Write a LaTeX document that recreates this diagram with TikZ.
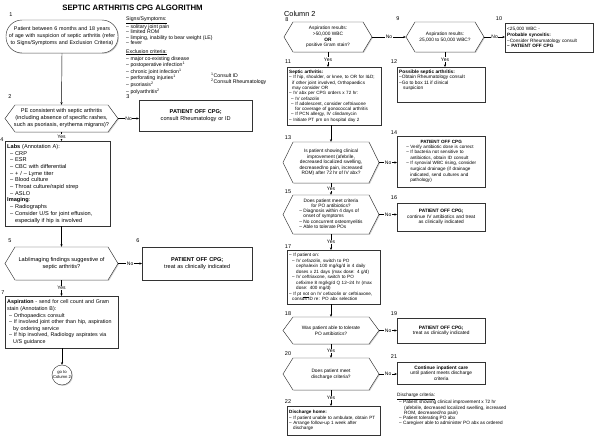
\documentclass[tikz,border=0pt]{standalone}
\usepackage{fontspec}
\setmainfont{Liberation Sans}
\usetikzlibrary{shadows,arrows.meta,calc}
\newcommand\fz[2]{\fontsize{#1}{#2}\selectfont}
% #1 name, #2 cx, #3 cy, #4 w, #5 h, #6 point depth, #7 text, #8 extra options
\newcommand\hexa[8]{%
  \draw[hexl] ({#2-#4/2},#3) -- ({#2-#4/2+#6},{#3-#5/2}) -- ({#2+#4/2-#6},{#3-#5/2}) -- ({#2+#4/2},#3) -- ({#2+#4/2-#6},{#3+#5/2}) -- ({#2-#4/2+#6},{#3+#5/2}) -- cycle;
  \node[hexn, minimum width=#4pt, minimum height=#5pt, #8] (#1) at (#2,#3) {#7};}
\begin{document}
\begin{tikzpicture}[x=1pt,y=-1pt,
  ln/.style={draw=black!80, line width=0.45pt},
  dsh/.style={drop shadow={shadow xshift=0.9pt, shadow yshift=-0.9pt, opacity=0.3, fill=black!60}},
  tbox/.style={ln, fill=white, dsh, anchor=north west, inner xsep=2pt, inner ysep=1pt, align=left},
  cbox/.style={ln, fill=white, dsh, anchor=north west, inner xsep=2pt, inner ysep=1pt, align=center},
  hexn/.style={inner sep=0pt, align=center},
  hexl/.style={ln, fill=white, dsh},
  arr/.style={draw=black, line width=0.45pt, -{Stealth[length=2.6pt,width=2.2pt]}},
  num/.style={font=\fz{5.5}{6}, inner sep=0pt},
  yn/.style={fill=white, inner sep=0.6pt, font=\fz{5}{5.6}}
]
\useasboundingbox (0,0) rectangle (595,439);

% titles
\node[font=\bfseries\fz{7.8}{9}] (title) at (132.5,8) {SEPTIC ARTHRITIS CPG ALGORITHM};
\node[anchor=west, font=\fz{7.3}{8}, inner sep=0pt] (col2) at (284,14) {Column 2};

% ---------------- column 1 ----------------
\node[ln, fill=white, dsh, rounded corners=16pt, minimum width=112pt, minimum height=33pt, text width=108pt, inner xsep=2pt, align=center, font=\fz{5.35}{7}] (b1) at (62,36.5)
  {Patient between 6 months and 18 years\\of age with suspicion of septic arthritis (refer\\to Signs/Symptoms and Exclusion Criteria)};

\node[anchor=north west, align=left, inner sep=0pt, font=\fz{5.2}{5.1}] (signs) at (126,17)
  {\underline{Signs/Symptoms:}\\
   – solitary joint pain\\
   – limited ROM\\
   – limping, inability to bear weight (LE)\\
   – fever\\[4pt]
   \underline{Exclusion criteria:}\\
   – major co-existing disease\\
   – postoperative infection\textsuperscript{1}\\
   – chronic joint infection\textsuperscript{1}\\
   – perforating injuries\textsuperscript{1}\\
   – psoriasis\textsuperscript{2}\\
   – polyarthritis\textsuperscript{2}};
\node[anchor=north west, align=left, inner sep=0pt, font=\fz{5.2}{6}] (fn) at (211,73)
  {\textsuperscript{1}Consult ID\\\textsuperscript{2}Consult Rheumatology};

\hexa{h2}{61.5}{118.5}{113}{27}{10}{PE consistent with septic arthritis\\(including absence of specific rashes,\\such as psoriasis, erythema migrans)?}{font=\fz{5.55}{7}}

\node[cbox, font=\fz{5.6}{6.6}, text width=109pt, minimum height=31pt] (b3) at (139,100)
  {\textbf{PATIENT OFF CPG;}\\consult Rheumatology or ID};

\node[tbox, font=\fz{5.6}{6.7}, text width=101pt, minimum height=85pt] (b4) at (5,141)
  {\textbf{Labs} (Annotation A):\\
   \hspace*{3pt}– CRP\\
   \hspace*{3pt}– ESR\\
   \hspace*{3pt}– CBC with differential\\
   \hspace*{3pt}– + / – Lyme titer\\
   \hspace*{3pt}– Blood culture\\
   \hspace*{3pt}– Throat culture/rapid strep\\
   \hspace*{3pt}– ASLO\\
   \textbf{Imaging}:\\
   \hspace*{3pt}– Radiographs\\
   \hspace*{3pt}– Consider U/S for joint effusion,\\
   \hspace*{8pt}especially if hip is involved};

\hexa{h5}{61.5}{263.5}{113}{33}{10}{Lab/imaging findings suggestive of\\septic arthritis?}{font=\fz{5.6}{7}}

\node[cbox, font=\fz{5.6}{6.6}, text width=106pt, minimum height=33pt] (b6) at (142,247)
  {\textbf{PATIENT OFF CPG;}\\treat as clinically indicated};

\node[tbox, font=\fz{5.35}{6.6}, text width=109pt, minimum height=52pt] (b7) at (5,296)
  {\textbf{Aspiration} - send for cell count and Gram\\
   stain (Annotation B):\\
   \hspace*{2pt}– Orthopaedics consult\\
   \hspace*{2pt}– If involved joint other than hip, aspiration\\
   \hspace*{6pt}by ordering service\\
   \hspace*{2pt}– If hip involved, Radiology aspirates via\\
   \hspace*{6pt}U/S guidance};

\node[ln, fill=white, dsh, circle, minimum size=20pt, inner sep=0pt, align=center, font=\fz{4.2}{4.9}] (c) at (62,375) {go to\\Column 2};

% ---------------- column 2 ----------------
\hexa{h8}{328}{37}{88}{30}{9}{Aspiration results:\\>50,000 WBC\\\textbf{OR}\\positive Gram stain?}{font=\fz{4.8}{5.6}}
\hexa{h9}{445}{37}{78}{30}{9}{Aspiration results:\\25,000 to 50,000 WBC?}{font=\fz{4.8}{6.4}}

\node[tbox, font=\fz{4.7}{5.6}, text width=84pt, minimum height=29pt] (b10) at (505,23)
  {<25,000 WBC -\\
   \textbf{Probable synovitis:}\\
   –Consider Rheumatology consult\\
   \textbf{– PATIENT OFF CPG}};

\node[tbox, font=\fz{4.6}{5.3}, text width=90pt, minimum height=58pt] (b11) at (287,67)
  {\textbf{Septic arthritis:}\\
   – If hip, shoulder, or knee, to OR for I\&D;\\
   \hspace*{3pt}if other joint involved, Orthopaedics\\
   \hspace*{3pt}may consider OR\\
   – IV abx per CPG orders x 72 hr:\\
   \hspace*{2pt}– IV cefazolin\\
   \hspace*{2pt}– If adolescent, consider ceftriaxone\\
   \hspace*{6pt}for coverage of gonococcal arthritis\\
   \hspace*{2pt}– If PCN allergy, IV clindamycin\\
   – Initiate PT prn on hospital day 2};

\node[ln, fill=white, dsh, anchor=north west, inner xsep=2pt, inner ysep=2.5pt, font=\fz{4.8}{5.5}] (b12) at (397,67)
  {\parbox[t][30pt][t]{84pt}{\raggedright
   \textbf{Possible septic arthritis:}\\
   –Obtain Rheumatology consult\\
   –Go to box 11 if clinical\\
   \hspace*{4pt}suspicion}};

\hexa{h13}{331}{162.5}{96}{41}{10}{Is patient showing clinical\\improvement (afebrile,\\decreased localized swelling,\\decreased/no pain, increased\\ROM) after 72 hr of IV abx?}{font=\fz{4.8}{5.6}}

\node[cbox, font=\fz{4.6}{5.6}, text width=84pt, minimum height=51pt] (b14) at (397,136)
  {\textbf{PATIENT OFF CPG}\\
   \begin{tabular}{@{}l@{}}
   – Verify antibiotic dose is correct\\
   – If bacteria not sensitive to\\
   \hspace*{4pt}antibiotics, obtain ID consult\\
   – If synovial WBC rising, consider\\
   \hspace*{4pt}surgical drainage (if drainage\\
   \hspace*{4pt}indicated, send cultures and\\
   \hspace*{4pt}pathology)
   \end{tabular}};

\hexa{h15}{331}{214.5}{96}{39}{10}{Does patient meet criteria\\for PO antibiotics?\\
   \begin{tabular}{@{}l@{}}
   – Diagnosis within 4 days of\\
   \hspace*{4pt}onset of symptoms\\
   – No concurrent osteomyelitis\\
   – Able to tolerate POs
   \end{tabular}}{font=\fz{4.8}{5.3}}

\node[cbox, font=\fz{4.8}{5.5}, text width=84pt, minimum height=28pt] (b16) at (397,203)
  {\textbf{PATIENT OFF CPG;}\\continue IV antibiotics and treat\\as clinically indicated};

\node[tbox, font=\fz{4.6}{5.5}, text width=89pt, minimum height=54pt] (b17) at (287,250)
  {– If patient on:\\
   \hspace*{3pt}– IV cefazolin, switch to PO\\
   \hspace*{7pt}cephalexin 100 mg/kg/d in 4 daily\\
   \hspace*{7pt}doses x 21 days (max dose: 4 g/d)\\
   \hspace*{3pt}– IV ceftriaxone, switch to PO\\
   \hspace*{7pt}cefixime 8 mg/kg/d Q 12–24 hr (max\\
   \hspace*{7pt}dose: 400 mg/d)\\
   – If pt \underline{not} on IV cefazolin or ceftriaxone,\\
   \hspace*{3pt}consult ID re: PO abx selection};

\hexa{h18}{331}{330.5}{96}{27}{10}{Was patient able to tolerate\\PO antibiotics?}{font=\fz{4.8}{6}}

\node[cbox, font=\fz{4.8}{5.5}, text width=84pt, minimum height=25pt] (b19) at (397,318)
  {\textbf{PATIENT OFF CPG;}\\treat as clinically indicated};

\hexa{h20}{331}{374}{96}{32}{10}{Does patient meet\\discharge criteria?}{font=\fz{4.8}{6}}

\node[cbox, font=\fz{4.8}{5.5}, text width=84pt, minimum height=22pt] (b21) at (397,362)
  {\textbf{Continue inpatient care}\\until patient meets discharge\\criteria};

\node[anchor=north west, align=left, inner sep=0pt, font=\fz{4.7}{5.1}] (dc) at (397,393)
  {\underline{Discharge criteria:}\\
   \hspace*{2pt}– Patient showing clinical improvement x 72 hr\\
   \hspace*{7pt}(afebrile, decreased localized swelling, increased\\
   \hspace*{7pt}ROM, decreased/no pain)\\
   \hspace*{2pt}– Patient tolerating PO abx\\
   \hspace*{2pt}– Caregiver able to administer PO abx as ordered};

\node[tbox, font=\fz{4.6}{5.3}, text width=89pt, minimum height=29pt] (b22) at (287,406)
  {\textbf{Discharge home:}\\
   – If patient unable to ambulate, obtain PT\\
   – Arrange follow-up 1 week after\\
   \hspace*{4pt}discharge};

% ---------------- numbers ----------------
\node[num] (n1) at (11,15) {1};
\node[num] (n2) at (10,97) {2};
\node[num] (n3) at (128,97) {3};
\node[num] (n4) at (2,140) {4};
\node[num] (n5) at (10,241) {5};
\node[num] (n6) at (138,241) {6};
\node[num] (n7) at (3,293) {7};
\node[num] (n8) at (287,20) {8};
\node[num] (n9) at (398,19) {9};
\node[num] (n10) at (499,19) {10};
\node[num] (n11) at (288,62) {11};
\node[num] (n12) at (394,62) {12};
\node[num] (n13) at (288,138) {13};
\node[num] (n14) at (394,133) {14};
\node[num] (n15) at (288,192) {15};
\node[num] (n16) at (394,198) {16};
\node[num] (n17) at (288,247) {17};
\node[num] (n18) at (288,314) {18};
\node[num] (n19) at (394,314) {19};
\node[num] (n20) at (288,354) {20};
\node[num] (n21) at (394,357) {21};
\node[num] (n22) at (288,402) {22};

% ---------------- connectors ----------------
\draw[arr] (b1.south) -- (h2.north);
\draw[arr] (h2.east) -- node[yn]{No} (h2.east -| b3.west);
\draw[arr] (h2.south) -- node[yn]{Yes} (h2.south |- b4.north);
\draw[arr] (h5.north |- b4.south) -- (h5.north);
\draw[arr] (h5.east) -- node[yn]{No} (h5.east -| b6.west);
\draw[arr] (h5.south) -- node[yn]{Yes} (h5.south |- b7.north);
\draw[arr] (c.north |- b7.south) -- (c.north);

\draw[arr] (h8.east) -- node[yn]{No} (h9.west);
\draw[arr] (h9.east) -- node[yn]{No} (h9.east -| b10.west);
\draw[arr] (h8.south) -- node[yn]{Yes} (h8.south |- b11.north);
\draw[arr] (h9.south) -- node[yn]{Yes} (h9.south |- b12.north);
\draw[arr] (h13.north |- b11.south) -- (h13.north);
\draw[arr] (h13.east) -- node[yn]{No} (h13.east -| b14.west);
\draw[arr] (h13.south) -- node[yn]{Yes} (h15.north);
\draw[arr] (h15.east) -- node[yn]{No} (h15.east -| b16.west);
\draw[arr] (h15.south) -- node[yn]{Yes} (h15.south |- b17.north);
\draw[arr] (h18.north |- b17.south) -- (h18.north);
\draw[arr] (h18.east) -- node[yn]{No} (h18.east -| b19.west);
\draw[arr] (h18.south) -- node[yn]{Yes} (h20.north);
\draw[arr] (h20.east) -- node[yn]{No} (h20.east -| b21.west);
\draw[arr] (h20.south) -- node[yn]{Yes} (h20.south |- b22.north);
\end{tikzpicture}
\end{document}
